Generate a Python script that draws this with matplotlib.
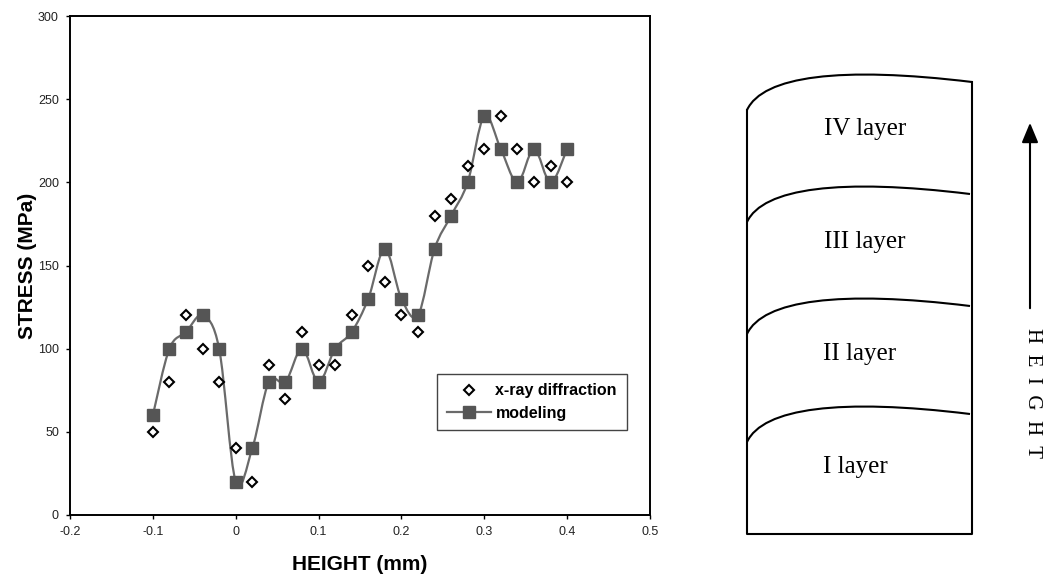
import numpy as np
import matplotlib.pyplot as plt
from matplotlib.path import Path
from matplotlib.patches import PathPatch
from matplotlib.lines import Line2D

# dados
altura = [-0.1, -0.08, -0.06, -0.04, -0.02, 0.0, 0.02, 0.04, 0.06, 0.08, 0.1, 0.12, 0.14,
          0.16, 0.18, 0.2, 0.22, 0.24, 0.26, 0.28, 0.3, 0.32, 0.34, 0.36, 0.38, 0.4]
xray = [50, 80, 120, 100, 80, 40, 20, 90, 70, 110, 90, 90, 120,
        150, 140, 120, 110, 180, 190, 210, 220, 240, 220, 200, 210, 200]
modelo = [60, 100, 110, 120, 100, 20, 40, 80, 80, 100, 80, 100, 110,
          130, 160, 130, 120, 160, 180, 200, 240, 220, 200, 220, 200, 220]
camadas = ["IV layer", "III layer", "II layer", "I layer"]
x_ticks = [-0.2, -0.1, 0, 0.1, 0.2, 0.3, 0.4, 0.5]
y_ticks = [0, 50, 100, 150, 200, 250, 300]

cinza_linha = "#6a6a6a"
cinza_marca = "#555555"


def linha_suave(x, y):
    # curva suave tipo Excel (Catmull-Rom convertida em Bezier)
    p = np.column_stack([x, y]).astype(float)
    verts = [p[0]]
    codes = [Path.MOVETO]
    n = len(p)
    for i in range(n - 1):
        p0 = p[i - 1] if i > 0 else p[i]
        p3 = p[i + 2] if i + 2 < n else p[i + 1]
        c1 = p[i] + (p[i + 1] - p0) / 6
        c2 = p[i + 1] - (p3 - p[i]) / 6
        verts += [c1, c2, p[i + 1]]
        codes += [Path.CURVE4] * 3
    return Path(verts, codes)


fig = plt.figure(figsize=(10.48, 5.74), dpi=100)
ax = fig.add_axes([0.0668, 0.1028, 0.5534, 0.8693])

ax.add_patch(PathPatch(linha_suave(altura, modelo), facecolor="none",
                       edgecolor=cinza_linha, lw=1.6, zorder=2))
ax.plot(altura, modelo, linestyle="none", marker="s", markersize=8.5,
        markerfacecolor=cinza_marca, markeredgecolor=cinza_marca, zorder=3)
ax.plot(altura, xray, linestyle="none", marker="D", markersize=5.5,
        markerfacecolor="white", markeredgecolor="black", markeredgewidth=1.5, zorder=4)

ax.set_xlim(-0.2, 0.5)
ax.set_ylim(0, 300)
ax.set_xticks(x_ticks)
ax.set_xticklabels(["-0.2", "-0.1", "0", "0.1", "0.2", "0.3", "0.4", "0.5"])
ax.set_yticks(y_ticks)
ax.tick_params(direction="out", length=3, width=1, labelsize=9, pad=5, labelcolor="#222222")
for s in ax.spines.values():
    s.set_linewidth(1.4)

ax.set_xlabel("HEIGHT (mm)", fontsize=15, fontweight="bold", family="Liberation Sans", labelpad=12)
ax.set_ylabel("STRESS (MPa)", fontsize=15, fontweight="bold", family="Liberation Sans", labelpad=1)
for lab in ax.get_xticklabels() + ax.get_yticklabels():
    lab.set_family("Liberation Sans")

h_xray = Line2D([], [], linestyle="none", marker="D", markersize=5.5,
                markerfacecolor="white", markeredgecolor="black", markeredgewidth=1.5)
h_mod = Line2D([], [], color=cinza_linha, lw=1.6, marker="s", markersize=8.5,
               markerfacecolor=cinza_marca, markeredgecolor=cinza_marca)
leg = ax.legend([h_xray, h_mod], ["x-ray diffraction", "modeling"],
                loc="lower left", bbox_to_anchor=(0.633, 0.170), borderaxespad=0,
                fancybox=False, framealpha=1, edgecolor="#444444",
                handlelength=2.8, handletextpad=0.25, borderpad=0.6, labelspacing=0.45,
                prop={"family": "Liberation Sans", "weight": "bold", "size": 11.5})
leg.get_frame().set_linewidth(1.0)

# desenho das camadas (coordenadas em pixels da figura)
dz = fig.add_axes([0, 0, 1, 1])
dz.set_xlim(0, 1048)
dz.set_ylim(574, 0)
dz.axis("off")

esq, dir_, base = 747, 972, 534
desloc = [0, 112, 224, 332]
for k, d in enumerate(desloc):
    x_fim = dir_ if k == 0 else 970
    curva = Path([(esq, 110 + d), (763, 76 + d), (840, 66 + d), (x_fim, 82 + d)],
                 [Path.MOVETO, Path.CURVE4, Path.CURVE4, Path.CURVE4])
    dz.add_patch(PathPatch(curva, facecolor="none", edgecolor="black", lw=1.5))
dz.plot([esq, esq, dir_, dir_], [110, base, base, 82], color="black", lw=1.5)

pos_texto = [(865, 129), (865, 242), (860, 354), (855, 467)]
for nome, (tx, ty) in zip(camadas, pos_texto):
    dz.text(tx, ty, nome, ha="center", va="center", fontsize=18, family="Liberation Serif")

dz.annotate("", xy=(1030, 120), xytext=(1030, 311),
            arrowprops=dict(arrowstyle="-|>,head_width=0.5,head_length=1.2",
                            color="black", lw=1.5))
dz.text(1032, 393, "H  E  I  G  H  T", rotation=-90, ha="center", va="center",
        fontsize=15, family="Liberation Serif")

fig.savefig("out.png", dpi=100)
